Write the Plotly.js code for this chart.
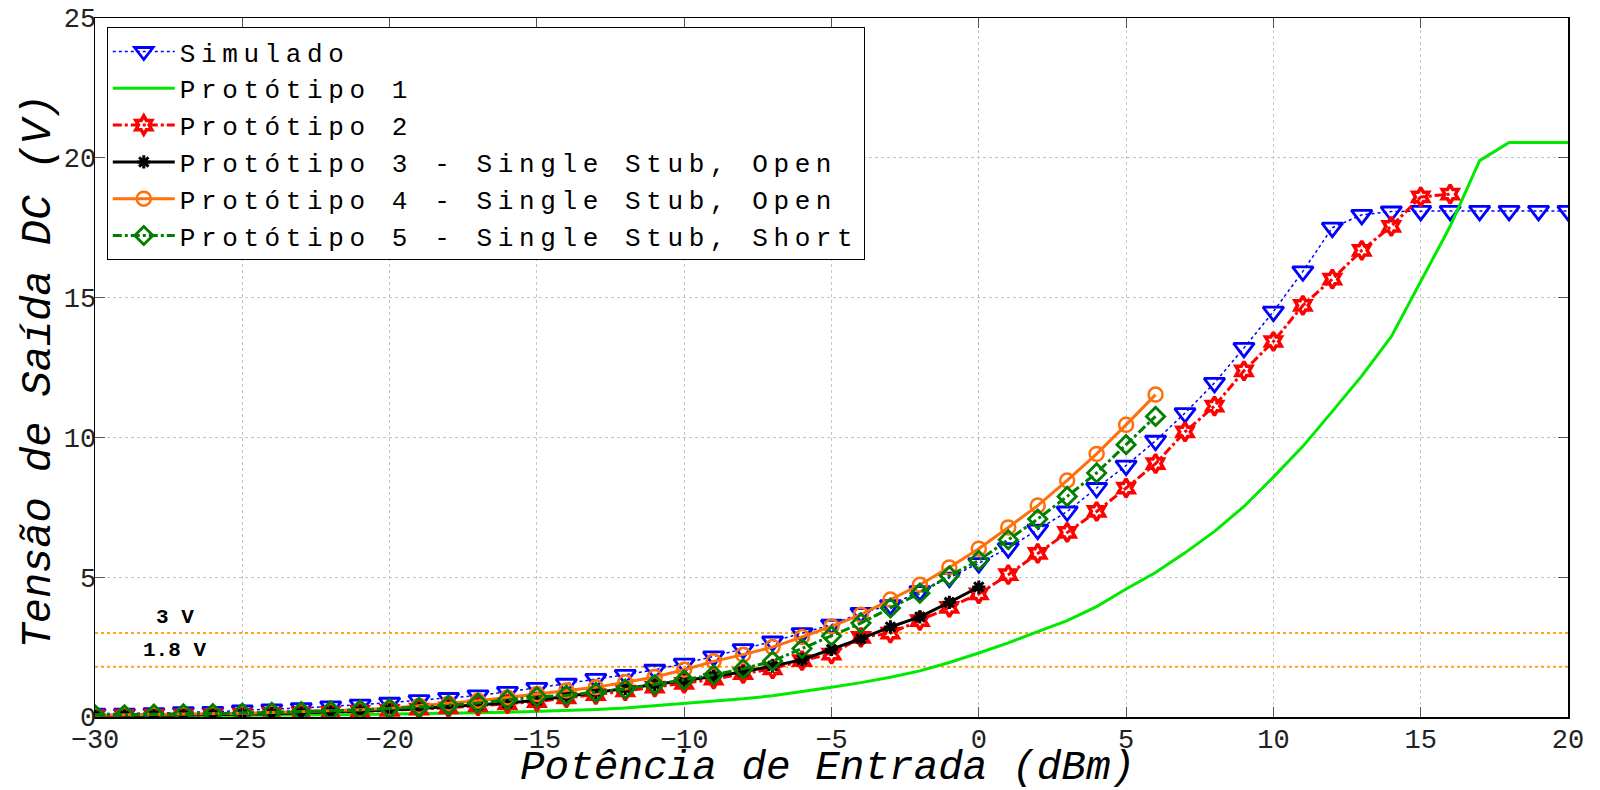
<!DOCTYPE html>
<html>
<head>
<meta charset="utf-8">
<script src="https://cdn.plot.ly/plotly-3.0.1.min.js"></script>
<style>
  html, body { margin: 0; padding: 0; background: #fff; }
  #chart { width: 1600px; height: 790px; }
  text.legendtext { letter-spacing: 5.6px; }
</style>
</head>
<body>
<div id="chart"></div>
<script>
// Input power (dBm), 1 dB steps
const potencia = [-30,-29,-28,-27,-26,-25,-24,-23,-22,-21,
                  -20,-19,-18,-17,-16,-15,-14,-13,-12,-11,
                  -10,-9,-8,-7,-6,-5,-4,-3,-2,-1,
                  0,1,2,3,4,5,6,7,8,9,
                  10,11,12,13,14,15,16,17,18,19,20];

// DC output voltage (V)
const simulado = [0.12,0.12,0.14,0.17,0.18,0.24,0.27,0.32,0.38,0.44,
                  0.51,0.60,0.68,0.77,0.90,1.04,1.19,1.36,1.51,1.69,
                  1.91,2.17,2.43,2.70,3.00,3.30,3.72,4.00,4.50,4.98,
                  5.50,6.04,6.70,7.35,8.19,8.99,9.88,10.87,11.95,13.20,
                  14.50,15.94,17.50,17.96,18.08,18.10,18.10,18.10,18.10,18.10,18.10];

const prototipo1 = [0.03,0.03,0.04,0.04,0.05,0.06,0.06,0.07,0.08,0.09,
                    0.10,0.12,0.13,0.15,0.17,0.20,0.23,0.27,0.32,0.40,
                    0.48,0.56,0.65,0.76,0.90,1.06,1.23,1.42,1.65,1.95,
                    2.29,2.65,3.05,3.45,3.95,4.58,5.17,5.87,6.64,7.53,
                    8.58,9.68,10.93,12.20,13.60,15.60,17.55,19.90,20.55,20.55,20.55];

const prototipo2 = [0.05,0.05,0.06,0.07,0.08,0.10,0.12,0.14,0.17,0.20,
                    0.24,0.28,0.33,0.40,0.47,0.55,0.68,0.80,0.93,1.07,
                    1.20,1.35,1.55,1.72,2.02,2.25,2.85,3.00,3.45,3.92,
                    4.40,5.09,5.85,6.60,7.35,8.19,9.06,10.20,11.12,12.38,
                    13.43,14.72,15.66,16.69,17.55,18.60,18.70];

const prototipo3 = [0.05,0.05,0.06,0.07,0.09,0.10,0.12,0.15,0.18,0.21,
                    0.25,0.30,0.36,0.42,0.50,0.60,0.75,0.88,1.02,1.16,
                    1.30,1.45,1.62,1.82,2.05,2.42,2.80,3.22,3.58,4.10,
                    4.65];

const prototipo4 = [0.06,0.07,0.08,0.10,0.11,0.13,0.16,0.19,0.22,0.26,
                    0.31,0.40,0.48,0.58,0.70,0.82,0.95,1.06,1.24,1.43,
                    1.69,1.99,2.23,2.50,2.86,3.24,3.66,4.20,4.73,5.35,
                    6.02,6.78,7.56,8.46,9.41,10.45,11.53];

const prototipo5 = [0.08,0.08,0.10,0.11,0.12,0.14,0.17,0.19,0.22,0.25,
                    0.30,0.35,0.42,0.50,0.62,0.72,0.78,0.88,1.00,1.16,
                    1.33,1.51,1.72,2.00,2.45,2.90,3.36,3.90,4.43,5.05,
                    5.60,6.34,7.08,7.89,8.73,9.74,10.75];

// Supply reference levels (V) and their labels
const niveis = [3, 1.8];
const niveisRotulos = ['3 V', '1.8 V'];

const tituloX = 'Potência de Entrada (dBm)';
const tituloY = 'Tensão de Saída DC (V)';

const xRange = [-30, 20];
const yRange = [0, 25];
const xTicks = [-30, -25, -20, -15, -10, -5, 0, 5, 10, 15, 20];
const yTicks = [0, 5, 10, 15, 20, 25];

const mono = '"Courier New", "Liberation Mono", monospace';

const traces = [];

// reference voltage lines
niveis.forEach((v, i) => {
  traces.push({
    x: xRange, y: [v, v], mode: 'lines', name: niveisRotulos[i], showlegend: false,
    line: { color: '#FFA31A', width: 2, dash: 'dot' }, hoverinfo: 'skip'
  });
});

traces.push({
  x: potencia, y: simulado, name: 'Simulado', mode: 'lines+markers',
  line: { color: '#0000FF', width: 1.5, dash: 'dot' },
  marker: { symbol: 'triangle-down-open', size: 18, color: '#0000FF', line: { width: 2.8, color: '#0000FF' } }
});
traces.push({
  x: potencia, y: prototipo1, name: 'Protótipo 1', mode: 'lines',
  line: { color: '#00EA00', width: 3 }
});
traces.push({
  x: potencia.slice(0, prototipo2.length), y: prototipo2, name: 'Protótipo 2', mode: 'lines+markers',
  line: { color: '#FF0000', width: 3, dash: 'dashdot' },
  marker: { symbol: 'hexagram-open', size: 14, color: '#FF0000', line: { width: 3.5, color: '#FF0000' } }
});
traces.push({
  x: potencia.slice(0, prototipo3.length), y: prototipo3, name: 'Protótipo 3 - Single Stub, Open', mode: 'lines+markers',
  line: { color: '#000000', width: 3 },
  marker: { symbol: 'asterisk-open', size: 11, color: '#000000', line: { width: 3, color: '#000000' } }
});
traces.push({
  x: potencia.slice(0, prototipo4.length), y: prototipo4, name: 'Protótipo 4 - Single Stub, Open', mode: 'lines+markers',
  line: { color: '#FF6F0A', width: 3 },
  marker: { symbol: 'circle-open', size: 14, color: '#FF6F0A', line: { width: 2.5, color: '#FF6F0A' } }
});
traces.push({
  x: potencia.slice(0, prototipo5.length), y: prototipo5, name: 'Protótipo 5 - Single Stub, Short', mode: 'lines+markers',
  line: { color: '#007F00', width: 3, dash: 'dashdot' },
  marker: { symbol: 'diamond-open', size: 14, color: '#007F00', line: { width: 2.8, color: '#007F00' } }
});

const annotations = niveis.map((v, i) => ({
  x: -27.3, y: v, xref: 'x', yref: 'y', text: '<b>' + niveisRotulos[i] + '</b>',
  showarrow: false, yshift: 16,
  font: { family: mono, size: 21, color: '#000' }
}));

// axis titles, placed in the margins
annotations.push({
  x: 0.5, y: 0, xref: 'paper', yref: 'paper', text: tituloX,
  showarrow: false, xanchor: 'center', yanchor: 'middle', xshift: -4, yshift: -51,
  font: { family: mono, size: 41, style: 'italic', color: '#000' }
});
annotations.push({
  x: 0, y: 0.5, xref: 'paper', yref: 'paper', text: tituloY, textangle: -90,
  showarrow: false, xanchor: 'center', yanchor: 'middle', xshift: -57, yshift: -4,
  font: { family: mono, size: 42, style: 'italic', color: '#000' }
});

const axisCommon = {
  showline: true, linecolor: '#000', linewidth: 1.5, mirror: 'ticks',
  ticks: 'inside', ticklen: 10, tickwidth: 1, tickcolor: '#555',
  showgrid: true, gridcolor: '#C4C4C4', gridwidth: 1, griddash: 'dot',
  zeroline: false, automargin: false,
  tickfont: { family: mono, size: 27, color: '#222' }
};

const layout = {
  width: 1600, height: 790,
  margin: { l: 95, r: 32, t: 18, b: 73 },
  paper_bgcolor: '#fff', plot_bgcolor: '#fff',
  showlegend: true,
  xaxis: Object.assign({}, axisCommon, {
    range: xRange, tickvals: xTicks, ticktext: xTicks.map(t => t < 0 ? '\u2212' + (-t) : String(t)),
    ticklabelstandoff: -3
  }),
  yaxis: Object.assign({}, axisCommon, {
    range: yRange, tickvals: yTicks, ticktext: yTicks.map(String), ticklabelstandoff: -8
  }),
  legend: {
    x: 0.008, y: 0.987, xanchor: 'left', yanchor: 'top',
    bgcolor: '#fff', bordercolor: '#000', borderwidth: 1,
    font: { family: mono, size: 26, color: '#000' },
    itemwidth: 62, tracegroupgap: 0
  },
  annotations: annotations
};

Plotly.newPlot('chart', traces, layout, { displayModeBar: false, staticPlot: true });
</script>
</body>
</html>
